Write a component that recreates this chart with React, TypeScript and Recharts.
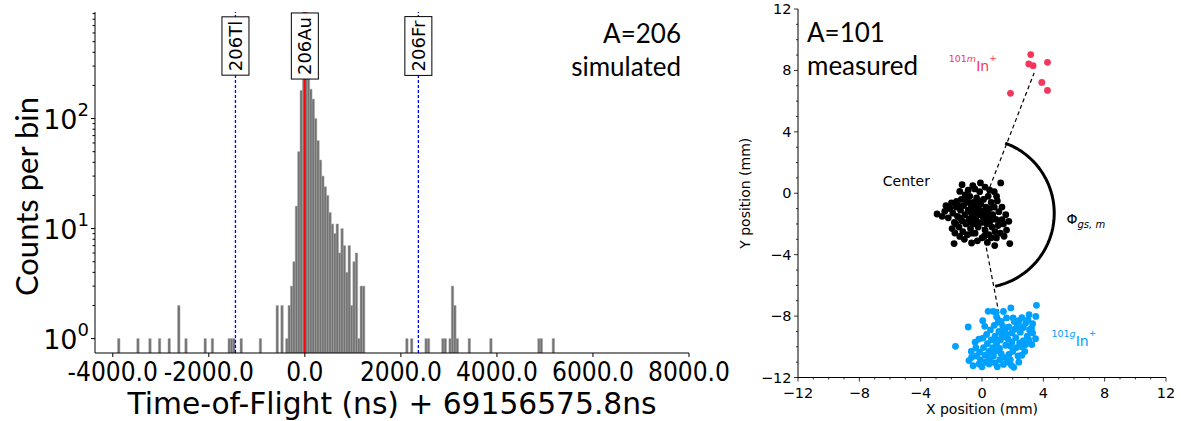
import React from "react";
import {
  BarChart,
  Bar,
  XAxis,
  YAxis,
  ReferenceLine,
  ReferenceDot,
  ScatterChart,
  Scatter,
} from "recharts";

// ---------- left panel: simulated A=206 time-of-flight histogram ----------
// bin centres (ns, offset by 69156575.8 ns) and counts per 50 ns bin
const tofBins = [
  -3875, -3475, -3225, -3025, -2825, -2625, -2475, -2075, -1925, -1575, -1525, -1475, -1325, -925, -575, -475,
  -375, -325, -275, -225, -175, -125, -75, -25, 25, 75, 125, 175, 225, 275, 325, 375, 425, 475, 525, 575,
  625, 675, 725, 775, 825, 875, 925, 975, 1025, 1075, 1125, 1175, 1225,
  2125, 2225, 2525, 2575, 2875, 2925, 3025, 3075, 3125, 3175, 3425, 3875, 4875, 4925, 5175,
];
const tofCounts = [
  1, 1, 1, 1, 1, 2, 1, 1, 1, 1, 1, 1, 1, 1, 2, 2,
  1, 2, 3, 5, 16, 50, 180, 1500, 1500, 240, 185, 150, 100, 63, 42, 30, 24, 20, 14, 11,
  9, 11, 6, 10, 7, 4, 7, 2, 5, 6, 1, 3, 3,
  1, 1, 1, 1, 1, 1, 1, 3, 2, 1, 1, 1, 1, 1, 1,
];
const tofTicks = [-4000, -2000, 0, 2000, 4000, 6000, 8000];
const countTicks = [1, 2, 3, 4, 5, 6, 7, 8, 9, 10, 20, 30, 40, 50, 60, 70, 80, 90, 100, 200, 300, 400, 500, 600, 700, 800, 900];
const markerNames = ["206Tl", "206Au", "206Fr"];
const markerTof = [-1445, 0, 2364];

// ---------- right panel: measured A=101 positions (mm) ----------
const metaPoints = [
  [3.18, 9.03], [3.05, 8.42], [3.33, 8.31], [4.27, 8.53], [3.9, 7.22], [4.27, 6.7], [1.86, 6.51],
];
const centerPoints = [
  [-2.93, -1.35], [-2.43, -1.18], [-1.99, -0.63], [-1.66, -0.53], [-1.56, -0.81], [-1.82, -3.28], [-1.77, -2.59],
  [-1.45, -2.81], [-0.68, -3.24], [0.83, -3.41], [0.94, -2.91], [1.44, -2.8], [1.81, -3.28], [1.75, -1.83],
  [1.31, -1.72], [1.22, 0.67], [-0.1, 0.67], [-1.3, 0.56], [-1.45, 0.12], [-0.47, 0.28],
  [-2.1, -1.0], [-2.2, -1.6], [-1.9, -1.3], [-1.8, -1.9], [-1.7, -0.9], [-1.6, -1.5], [-1.5, -2.2], [-1.4, -1.1],
  [-1.35, -0.4], [-1.3, -1.8], [-1.25, -2.5], [-1.2, -0.8], [-1.1, -1.4], [-1.05, -2.0], [-1.0, -0.5], [-0.95, -2.7],
  [-0.9, -1.1], [-0.85, -1.7], [-0.8, -0.2], [-0.75, -2.3], [-0.7, -0.9], [-0.65, -1.5], [-0.6, -2.0], [-0.55, -0.6],
  [-0.5, -1.2], [-0.45, -2.6], [-0.4, -1.7], [-0.35, -0.3], [-0.3, -1.0], [-0.25, -2.2], [-0.2, -1.4], [-0.15, 0.1],
  [-0.1, -0.7], [-0.05, -1.9], [0.0, -2.9], [0.05, -1.2], [0.1, -0.4], [0.15, -1.6], [0.2, -2.4], [0.25, -0.9],
  [0.3, -2.0], [0.35, -1.3], [0.4, -0.2], [0.45, -2.7], [0.5, -1.0], [0.55, -1.8], [0.6, -0.6], [0.65, -2.2],
  [0.7, -1.4], [0.8, -0.9], [0.85, -2.5], [0.9, -1.7], [1.0, -0.5], [1.05, -2.1], [1.1, -1.2], [1.2, -2.6],
  [1.3, -0.9], [1.4, -2.0], [1.55, -1.4], [1.6, -2.4], [-2.6, -1.5], [-2.35, -0.8], [-1.95, -2.3], [-1.15, -3.0],
  [-0.3, -3.1], [0.35, -3.2], [-0.9, 0.2], [-0.6, 0.5], [0.5, 0.2], [0.8, 0.1], [-1.1, -0.1], [0.2, 0.4],
  [-0.75, -1.2], [-0.55, -1.6], [-0.35, -1.9], [-0.15, -1.1], [0.05, -1.5], [0.25, -1.8], [-0.85, -0.6], [-0.65, -2.6],
  [-0.25, -0.5], [0.45, -1.5], [-1.45, -1.6], [-0.95, -1.9], [-0.45, -0.9], [0.15, -2.8], [0.6, -2.9], [-1.7, -2.0],
  [1.15, -1.8], [0.95, -0.2],
];
const groundPoints = [
  [3.55, -7.3], [3.51, -8.02], [3.07, -7.91], [1.88, -7.47], [0.72, -7.69], [0.4, -7.69], [-0.9, -8.71], [-1.73, -9.97],
  [3.49, -9.47], [2.79, -10.3], [-0.68, -10.69], [-0.58, -11.23], [-0.19, -11.12], [0.46, -11.12], [1.92, -11.21],
  [2.07, -11.34], [1.16, -10.84], [-0.4, -10.08], [2.47, -8.67], [3.23, -8.78], [1.6, -8.12], [2.03, -8.12],
  [0.07, -9.43], [0.18, -8.67], [0.95, -8.05], [1.25, -8.35], [2.6, -8.1], [2.85, -8.45], [3.1, -8.9], [3.3, -9.1],
  [2.95, -9.3], [2.7, -9.6], [2.5, -9.05], [2.3, -8.6], [2.15, -8.85], [1.95, -9.1], [1.75, -8.7], [1.5, -8.95],
  [1.3, -9.25], [1.1, -9.0], [0.85, -9.3], [0.6, -9.55], [0.35, -9.8], [0.1, -10.05], [-0.15, -10.35], [-0.35, -10.6],
  [-0.1, -10.85], [0.2, -10.55], [0.45, -10.3], [0.7, -10.05], [0.95, -9.8], [1.2, -9.55], [1.45, -9.35], [1.7, -9.5],
  [1.95, -9.7], [2.2, -9.4], [2.45, -9.75], [2.25, -10.05], [2.0, -10.3], [1.75, -10.5], [1.5, -10.7], [1.25, -10.45],
  [1.0, -10.25], [0.75, -10.6], [0.5, -10.85], [0.25, -11.0], [0.85, -11.05], [1.4, -11.15], [1.65, -11.0],
  [1.85, -10.85], [2.35, -10.6], [2.6, -10.0], [2.85, -9.85], [3.05, -9.55], [3.25, -9.85], [0.55, -8.9], [0.3, -9.2],
  [0.8, -8.6], [1.05, -8.4], [1.35, -8.65], [1.6, -9.2], [1.85, -9.95], [2.1, -8.35], [2.4, -8.3], [1.15, -10.1],
  [1.55, -9.9], [0.9, -9.55], [0.65, -10.35], [0.4, -10.6], [2.7, -8.75], [3.0, -8.25], [-0.45, -9.7], [-0.2, -9.5],
  [-0.7, -10.3], [-0.85, -10.9], [0.0, -11.3], [1.0, -11.3], [2.4, -11.0], [2.6, -10.55], [3.3, -8.5], [1.4, -7.7],
  [0.9, -7.75], [0.05, -8.3],
];
const posTicks = [-12, -11, -10, -9, -8, -7, -6, -5, -4, -3, -2, -1, 0, 1, 2, 3, 4, 5, 6, 7, 8, 9, 10, 11, 12];
const centerXY = [-0.15, -1.3];
const metaEnd = [3.4, 7.84];
const groundEnd = [1.43, -9.53];
const arcRadius = 4.86;
const arcFromDeg = 70;
const arcToDeg = -79;

const RED = "#f5365c";
const BLUE = "#00a0ff";
const SANS = "'DejaVu Sans', sans-serif";
const CAL = "Lato, 'Open Sans', sans-serif";

const tofData = tofBins.map((t, i) => ({ tof: t, count: tofCounts[i] }));
const toXY = (pts: number[][]) => pts.map(([x, y]) => ({ x, y }));
const arcData: { x: number; y: number }[] = [];
for (let a = arcFromDeg; a >= arcToDeg; a -= 2) {
  const r = (a * Math.PI) / 180;
  arcData.push({ x: centerXY[0] + arcRadius * Math.cos(r), y: centerXY[1] + arcRadius * Math.sin(r) });
}

let ctx: CanvasRenderingContext2D | null = null;
const textWidth = (s: string, font: string) => {
  if (!ctx) ctx = document.createElement("canvas").getContext("2d");
  if (!ctx) return s.length * 11;
  ctx.font = font;
  return ctx.measureText(s).width;
};

// narrowed text, like the squeezed image in the original figure
const Squeezed = ({ x, y, size, squeeze, anchor, children }: any) => (
  <text
    x={x}
    y={y}
    fontSize={size}
    fontFamily={SANS}
    textAnchor={anchor}
    textLength={textWidth(children, `${size}px 'DejaVu Sans'`) * squeeze}
    lengthAdjust="spacingAndGlyphs"
    fill="#000"
  >
    {children}
  </text>
);

// ---- left panel ticks / labels ----
const TofTick = ({ x, y, payload }: any) => (
  <g>
    <line x1={x} x2={x} y1={y} y2={y + 4} stroke="#000" />
    <Squeezed x={x} y={y + 28} size={26} squeeze={0.9} anchor="middle">
      {payload.value.toFixed(1)}
    </Squeezed>
  </g>
);

const CountTick = ({ x, y, payload }: any) => {
  const v = payload.value;
  const exp = Math.round(Math.log10(v));
  const major = Math.abs(v - Math.pow(10, exp)) < 1e-9;
  return (
    <g>
      <line x1={x - (major ? 4 : 2.5)} x2={x} y1={y} y2={y} stroke="#000" />
      {major && (
        <text x={x - 6} y={y + 10} textAnchor="end" fontSize={27} fontFamily={SANS} fill="#000">
          10<tspan fontSize={18} dy={-13}>{exp}</tspan>
        </text>
      )}
    </g>
  );
};

const TofAxisLabel = ({ viewBox }: any) => (
  <Squeezed x={viewBox.x + viewBox.width / 2} y={viewBox.y + 61} size={30} squeeze={0.99} anchor="middle">
    Time-of-Flight (ns) + 69156575.8ns
  </Squeezed>
);

const CountAxisLabel = ({ viewBox }: any) => {
  const cx = viewBox.x + 26;
  const cy = viewBox.y + viewBox.height / 2 + 14;
  return (
    <text x={cx} y={cy} transform={`rotate(-90 ${cx} ${cy})`} textAnchor="middle" dominantBaseline="central" fontSize={31} fontFamily={CAL} fill="#000">
      Counts per bin
    </text>
  );
};

const MarkerLabel = ({ viewBox, text }: any) => {
  const cx = viewBox.x;
  const cy = viewBox.y + 34;
  const h = textWidth(text, `18px ${SANS}`) + 8;
  return (
    <g>
      <rect x={cx - 13.5} y={cy - h / 2} width={27} height={h} fill="#fff" stroke="#000" strokeWidth={1} />
      <text x={cx + 6.5} y={cy} transform={`rotate(-90 ${cx + 6.5} ${cy})`} textAnchor="middle" fontSize={18} fontFamily={SANS} fill="#000">
        {text}
      </text>
    </g>
  );
};

// ---- right panel ticks / labels ----
const fmtPos = (v: number) => (v < 0 ? "\u2212" + Math.abs(v) : String(v));

const PosXTick = ({ x, y, payload }: any) => {
  const major = payload.value % 4 === 0;
  return (
    <g>
      <line x1={x} x2={x} y1={y} y2={y + (major ? 4 : 2)} stroke="#000" strokeWidth={0.8} />
      {major && (
        <text x={x} y={y + 20} textAnchor="middle" fontSize={14.5} fontFamily={SANS} fill="#000">
          {fmtPos(payload.value)}
        </text>
      )}
    </g>
  );
};

const PosYTick = ({ x, y, payload }: any) => {
  const major = payload.value % 4 === 0;
  return (
    <g>
      <line x1={x - (major ? 4 : 2)} x2={x} y1={y} y2={y} stroke="#000" strokeWidth={0.8} />
      {major && (
        <text x={x - 6.5} y={y + 5} textAnchor="end" fontSize={14.5} fontFamily={SANS} fill="#000">
          {fmtPos(payload.value)}
        </text>
      )}
    </g>
  );
};

const PosXLabel = ({ viewBox }: any) => (
  <text x={viewBox.x + viewBox.width / 2} y={viewBox.y + 36} textAnchor="middle" fontSize={14} fontFamily={SANS} fill="#000">
    X position (mm)
  </text>
);

const PosYLabel = ({ viewBox }: any) => {
  const cx = viewBox.x + 20;
  const cy = viewBox.y + viewBox.height / 2;
  return (
    <text x={cx} y={cy} transform={`rotate(-90 ${cx} ${cy})`} textAnchor="middle" fontSize={14} fontFamily={SANS} fill="#000">
      Y position (mm)
    </text>
  );
};

const IonLabel = ({ cx, cy, state, color }: any) => (
  <text x={cx} y={cy} fill={color} fontFamily={SANS}>
    <tspan fontSize={9.5} dy={-9}>101</tspan>
    <tspan fontSize={9.5} fontStyle="italic">{state}</tspan>
    <tspan fontSize={14} dy={9}>In</tspan>
    <tspan fontSize={9} dy={-10}>+</tspan>
  </text>
);

const TextAt = ({ cx, cy, children }: any) => (
  <text x={cx} y={cy} fontSize={14} fontFamily={SANS} fill="#000">
    {children}
  </text>
);

const dot = (color: string) => (p: any) => <circle cx={p.cx} cy={p.cy} r={3.4} fill={color} />;

function TofHistogram() {
  return (
    <BarChart width={770} height={421} data={tofData} margin={{ top: 12, right: 81, bottom: 0, left: 0 }} barCategoryGap={0} barGap={0}>
      <XAxis
        dataKey="tof"
        type="number"
        domain={[-4370, 8000]}
        allowDataOverflow
        ticks={tofTicks}
        interval={0}
        tick={<TofTick />}
        tickLine={false}
        tickSize={0}
        tickMargin={0}
        height={68}
        stroke="#000"
        label={<TofAxisLabel />}
      />
      <XAxis xAxisId="top" orientation="top" type="number" domain={[0, 1]} height={0} tick={false} tickLine={false} stroke="#000" />
      <YAxis
        type="number"
        scale="log"
        domain={[0.74, 930]}
        allowDataOverflow
        ticks={countTicks}
        interval={0}
        tick={<CountTick />}
        tickLine={false}
        tickSize={0}
        tickMargin={0}
        width={95}
        stroke="#000"
        label={<CountAxisLabel />}
      />
      <YAxis yAxisId="right" orientation="right" type="number" domain={[0, 1]} width={0} tick={false} tickLine={false} stroke="#000" />
      <Bar dataKey="count" fill="#727272" stroke="#a3a3a3" strokeWidth={0.5} barSize={2.4} isAnimationActive={false} />
      {markerNames.map((name, i) => (
        <ReferenceLine
          key={name}
          x={markerTof[i]}
          stroke={i === 1 ? "#ff0000" : "#0000ff"}
          strokeWidth={i === 1 ? 1.6 : 1.3}
          strokeDasharray={i === 1 ? undefined : "3 2"}
          label={<MarkerLabel text={name} />}
        />
      ))}
    </BarChart>
  );
}

function PositionScatter() {
  return (
    <ScatterChart width={451} height={421} margin={{ top: 9, right: 15, bottom: 0, left: 0 }}>
      <XAxis
        dataKey="x"
        type="number"
        domain={[-12, 12]}
        ticks={posTicks}
        interval={0}
        tick={<PosXTick />}
        tickLine={false}
        tickSize={0}
        tickMargin={0}
        height={43.5}
        stroke="#000"
        label={<PosXLabel />}
      />
      <XAxis xAxisId="top" orientation="top" type="number" domain={[0, 1]} height={0} tick={false} tickLine={false} stroke="#000" />
      <YAxis
        dataKey="y"
        type="number"
        domain={[-12, 12]}
        ticks={posTicks}
        interval={0}
        tick={<PosYTick />}
        tickLine={false}
        tickSize={0}
        tickMargin={0}
        width={68}
        stroke="#000"
        label={<PosYLabel />}
      />
      <YAxis yAxisId="right" orientation="right" type="number" domain={[0, 1]} width={0} tick={false} tickLine={false} stroke="#000" />
      <Scatter data={toXY(centerPoints)} shape={dot("#000")} isAnimationActive={false} />
      <Scatter data={toXY(groundPoints)} shape={dot(BLUE)} isAnimationActive={false} />
      <Scatter data={toXY(metaPoints)} shape={dot(RED)} isAnimationActive={false} />
      <ReferenceLine
        segment={[{ x: centerXY[0], y: centerXY[1] }, { x: metaEnd[0], y: metaEnd[1] }]}
        stroke="#000"
        strokeWidth={1.2}
        strokeDasharray="4 3"
      />
      <ReferenceLine
        segment={[{ x: centerXY[0], y: centerXY[1] }, { x: groundEnd[0], y: groundEnd[1] }]}
        stroke="#000"
        strokeWidth={1.2}
        strokeDasharray="4 3"
      />
      <Scatter data={arcData} line={{ stroke: "#000", strokeWidth: 3 }} lineType="joint" shape={() => <g />} isAnimationActive={false} />
      <ReferenceDot x={-2.17} y={7.94} r={1} shape={(p: any) => <IonLabel cx={p.cx} cy={p.cy} state="m" color={RED} />} />
      <ReferenceDot x={4.53} y={-9.93} r={1} shape={(p: any) => <IonLabel cx={p.cx} cy={p.cy} state="g" color={BLUE} />} />
      <ReferenceDot x={-6.47} y={0.5} r={1} shape={(p: any) => <TextAt cx={p.cx} cy={p.cy}>Center</TextAt>} />
      <ReferenceDot
        x={5.51}
        y={-1.98}
        r={1}
        shape={(p: any) => (
          <text x={p.cx} y={p.cy} fontFamily={SANS} fill="#000">
            <tspan fontSize={14}>Φ</tspan>
            <tspan fontSize={10} fontStyle="italic" dy={4}>gs, m</tspan>
          </text>
        )}
      />
    </ScatterChart>
  );
}

export default function App() {
  return (
    <div style={{ position: "relative", width: 1181, height: 421, background: "#fff", overflow: "hidden" }}>
      <style>{"body{margin:0}"}</style>
      <div style={{ position: "absolute", left: 0, top: 0 }}>
        <TofHistogram />
      </div>
      <div style={{ position: "absolute", left: 730, top: 0 }}>
        <PositionScatter />
      </div>
      <svg width={1181} height={421} style={{ position: "absolute", left: 0, top: 0, pointerEvents: "none" }}>
        <text x={681} y={43} textAnchor="end" fontSize={26} fontFamily={CAL} fill="#000">A=206</text>
        <text x={681} y={76} textAnchor="end" fontSize={26} fontFamily={CAL} fill="#000">simulated</text>
        <text x={807} y={42} fontSize={26} fontFamily={CAL} fill="#000">A=101</text>
        <text x={807} y={75} fontSize={26} fontFamily={CAL} fill="#000">measured</text>
      </svg>
    </div>
  );
}
